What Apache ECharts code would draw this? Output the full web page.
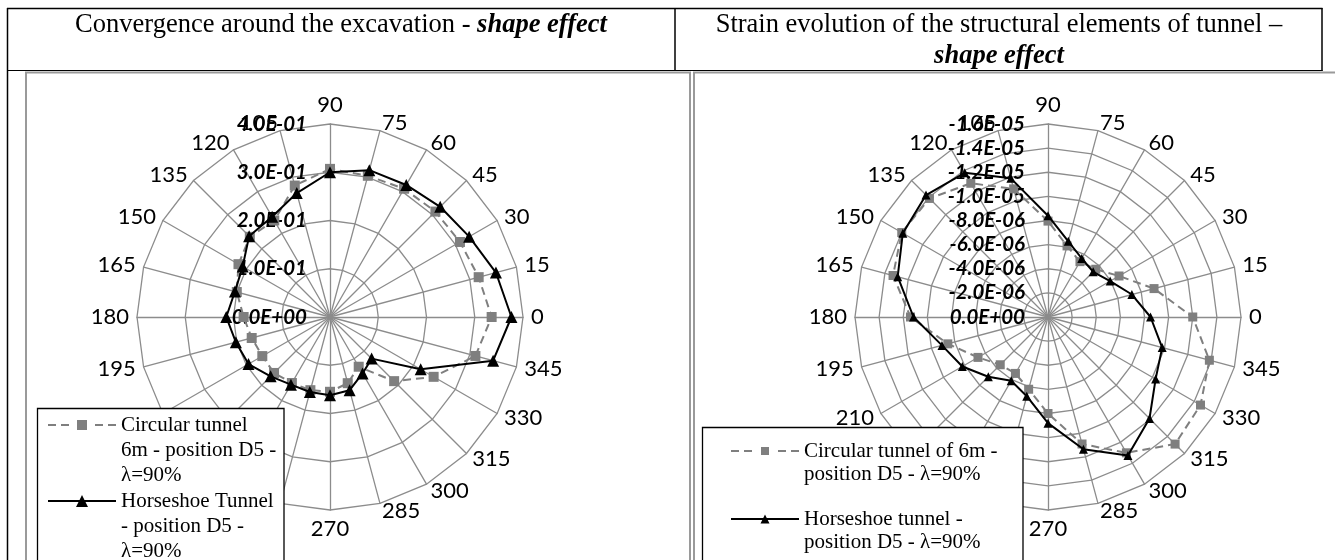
<!DOCTYPE html>
<html><head><meta charset="utf-8">
<script src="https://cdn.jsdelivr.net/npm/echarts@6.0.0/dist/echarts.min.js"></script>
<style>html,body{margin:0;padding:0;background:#fff}#c{width:1335px;height:560px}</style>
</head><body><div id="c"></div>
<script>
// Angle categories, in the order the radar lays them out (starting at the top, counter-clockwise)
const angleLabels = ['90','105','120','135','150','165','180','195','210','225','240','255','270','285','300','315','330','345','0','15','30','45','60','75'];

// Left chart: convergence around the excavation
const convCircular   = [0.307,0.282,0.231,0.235,0.219,0.200,0.179,0.168,0.162,0.164,0.158,0.157,0.155,0.142,0.119,0.188,0.248,0.312,0.335,0.319,0.311,0.309,0.307,0.303];
const convHorseshoe  = [0.300,0.266,0.240,0.237,0.209,0.204,0.215,0.202,0.195,0.174,0.162,0.161,0.162,0.157,0.135,0.122,0.217,0.350,0.376,0.356,0.333,0.323,0.316,0.315];
const convAxisMax = 0.4, convSplits = 4;

// Right chart: strain magnitude of the structural elements (axis labelled negative)
const strainCircular  = [7.95e-6,11.0e-6,12.8e-6,13.9e-6,14.0e-6,13.3e-6,11.4e-6,8.6e-6,6.7e-6,5.6e-6,5.4e-6,6.2e-6,8.0e-6,10.9e-6,13.0e-6,14.9e-6,14.6e-6,13.85e-6,12.0e-6,9.1e-6,6.8e-6,5.6e-6,5.3e-6,6.1e-6];
const strainHorseshoe = [8.4e-6,11.9e-6,13.8e-6,14.3e-6,13.9e-6,12.9e-6,11.15e-6,9.1e-6,8.2e-6,7.0e-6,6.1e-6,6.8e-6,8.8e-6,11.35e-6,13.25e-6,11.9e-6,10.3e-6,9.8e-6,8.5e-6,7.2e-6,5.95e-6,5.3e-6,5.6e-6,6.5e-6];
const strainAxisMax = 1.6e-5, strainSplits = 8;

// Texts
const headerLeft = '{r|Convergence around the excavation - }{b|shape effect}';
const headerRight = 'Strain evolution of the structural elements of tunnel –\n{b|shape effect}';
const nameLC = 'Circular tunnel 6m - position D5 - λ=90%';
const nameLH = 'Horseshoe Tunnel - position D5 - λ=90%';
const nameRC = 'Circular tunnel of 6m - position D5 - λ=90%';
const nameRH = 'Horseshoe tunnel - position D5 - λ=90%';
const wrapped = {};
wrapped[nameLC] = ['Circular tunnel', '6m - position D5 -', 'λ=90%'];
wrapped[nameLH] = ['Horseshoe Tunnel', '- position D5 -', 'λ=90%'];
wrapped[nameRC] = ['Circular tunnel of 6m -', 'position D5 - λ=90%'];
wrapped[nameRH] = ['Horseshoe tunnel -', 'position D5 - λ=90%'];

function sci(v) {
  if (Math.abs(v) < 1e-20) return '0.0E+00';
  const s = v.toExponential(1).split('e');
  const n = parseInt(s[1], 10);
  return s[0] + 'E' + (n < 0 ? '-' : '+') + String(Math.abs(n)).padStart(2, '0');
}

const GRID = '#8c8c8c';
const valueLabelStyle = {show: true, margin: 23, color: '#000', fontFamily: 'Lato', fontSize: 20.5, fontWeight: 'bold', fontStyle: 'italic'};

function makeRadar(cx, max, splits, fmt) {
  return {
    center: [cx, 317], radius: 193, startAngle: 90, shape: 'polygon', splitNumber: splits,
    indicator: angleLabels.map(function (a, i) {
      const ind = {name: a, min: 0, max: max};
      if (i === 0) ind.axisLabel = Object.assign({formatter: fmt}, valueLabelStyle);
      return ind;
    }),
    axisName: {color: '#000', fontFamily: 'Lato', fontSize: 22},
    nameGap: 8,
    axisLabel: {show: false},
    axisTick: {show: false},
    splitLine: {lineStyle: {color: GRID, width: 1.3}},
    splitArea: {show: false},
    axisLine: {lineStyle: {color: GRID, width: 1.3}}
  };
}

const iconLC = 'path://M0,4h8v2h-8z M13,4h8v2h-8z M29,0h10v10h-10z M47,4h8v2h-8z M60,4h8v2h-8z';
const iconLH = 'path://M0,5h68v2h-68z M28,12L34,0L40,12z';
const iconRC = 'path://M0,3h8v2h-8z M13,3h8v2h-8z M30,0h8v8h-8z M47,3h8v2h-8z M60,3h8v2h-8z';
const iconRH = 'path://M0,3.5h68v2h-68z M29.5,9L34,0L38.5,9z';

// The first text line sits level with the legend symbol: blank lines above balance the lines below.
function makeLegend(name, icon, left, iconY, ih, lh) {
  const lines = wrapped[name];
  const blanks = lines.length - 1;
  return {
    data: [{name: name, icon: icon}], left: left, top: iconY - (2 * blanks + 1) * lh / 2, orient: 'vertical',
    itemWidth: 68, itemHeight: ih, padding: 0, selectedMode: false, z: 20,
    itemStyle: {borderWidth: 0},
    formatter: function (n) { return '\n'.repeat(blanks) + wrapped[n].join('\n'); },
    textStyle: {fontFamily: 'Liberation Serif', fontSize: 21, color: '#000', lineHeight: lh,
      backgroundColor: 'rgba(255,255,255,0)'}
  };
}

const chart = echarts.init(document.getElementById('c'));
chart.setOption({
  animation: false,
  backgroundColor: '#fff',
  radar: [
    makeRadar(330, convAxisMax, convSplits, function (v) { return sci(v); }),
    makeRadar(1048, strainAxisMax, strainSplits, function (v) { return v < 1e-20 ? sci(0) : '-' + sci(v); })
  ],
  legend: [
    makeLegend(nameLC, iconLC, 48, 425, 10, 25),
    makeLegend(nameLH, iconLH, 48, 501, 12, 25),
    makeLegend(nameRC, iconRC, 731, 451, 8, 23.3),
    makeLegend(nameRH, iconRH, 731, 519, 9, 23.3)
  ],
  series: [
    {type: 'radar', radarIndex: 0, symbol: 'rect', symbolSize: 10, z: 3,
     itemStyle: {color: '#7f7f7f'}, lineStyle: {color: '#7f7f7f', width: 2, type: [8, 5]},
     data: [{name: nameLC, value: convCircular}]},
    {type: 'radar', radarIndex: 0, symbol: 'triangle', symbolSize: 12, z: 4,
     itemStyle: {color: '#000'}, lineStyle: {color: '#000', width: 2},
     data: [{name: nameLH, value: convHorseshoe}]},
    {type: 'radar', radarIndex: 1, symbol: 'rect', symbolSize: 9, z: 3,
     itemStyle: {color: '#7f7f7f'}, lineStyle: {color: '#7f7f7f', width: 2, type: [8, 5]},
     data: [{name: nameRC, value: strainCircular}]},
    {type: 'radar', radarIndex: 1, symbol: 'triangle', symbolSize: 9, z: 4,
     itemStyle: {color: '#000'}, lineStyle: {color: '#000', width: 2},
     data: [{name: nameRH, value: strainHorseshoe}]}
  ],
  graphic: [
    // table frame
    {type: 'line', z: 30, shape: {x1: 7, y1: 8.5, x2: 1322.5, y2: 8.5}, style: {stroke: '#000', lineWidth: 1.5}},
    {type: 'line', z: 30, shape: {x1: 7.5, y1: 8, x2: 7.5, y2: 560}, style: {stroke: '#000', lineWidth: 1.5}},
    {type: 'line', z: 30, shape: {x1: 675, y1: 8, x2: 675, y2: 71}, style: {stroke: '#000', lineWidth: 1.5}},
    {type: 'line', z: 30, shape: {x1: 1322, y1: 8, x2: 1322, y2: 71}, style: {stroke: '#000', lineWidth: 1.5}},
    {type: 'line', z: 30, shape: {x1: 7, y1: 70.5, x2: 1322.5, y2: 70.5}, style: {stroke: '#000', lineWidth: 1.2}},
    // chart areas
    {type: 'rect', z: 1, shape: {x: 26, y: 72.5, width: 664, height: 600}, style: {fill: 'none', stroke: '#9a9a9a', lineWidth: 2}},
    {type: 'rect', z: 1, shape: {x: 694, y: 72.5, width: 700, height: 600}, style: {fill: 'none', stroke: '#9a9a9a', lineWidth: 2}},
    // legend boxes
    {type: 'rect', z: 10, shape: {x: 37.5, y: 408.5, width: 246.5, height: 200}, style: {fill: '#fff', stroke: '#000', lineWidth: 1.3}},
    {type: 'rect', z: 10, shape: {x: 702.5, y: 427.5, width: 320.5, height: 200}, style: {fill: '#fff', stroke: '#000', lineWidth: 1.3}},
    // headers
    {type: 'text', z: 30, x: 341, y: 10, style: {text: headerLeft, align: 'center', verticalAlign: 'top',
      fontFamily: 'Liberation Serif', fontSize: 26.5, lineHeight: 31, fill: '#000',
      rich: {r: {fontFamily: 'Liberation Serif', fontSize: 26.5, lineHeight: 31},
             b: {fontFamily: 'Liberation Serif', fontSize: 26.5, lineHeight: 31, fontWeight: 'bold', fontStyle: 'italic'}}}},
    {type: 'text', z: 30, x: 999, y: 10, style: {text: headerRight, align: 'center', verticalAlign: 'top',
      fontFamily: 'Liberation Serif', fontSize: 26.5, lineHeight: 31, fill: '#000',
      rich: {b: {fontFamily: 'Liberation Serif', fontSize: 26.5, lineHeight: 31, fontWeight: 'bold', fontStyle: 'italic'}}}}
  ]
});
</script></body></html>
